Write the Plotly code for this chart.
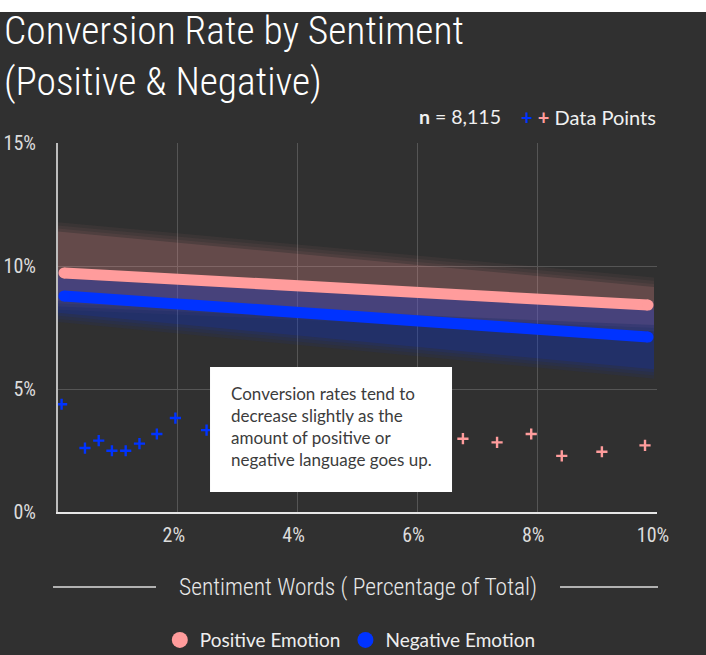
import plotly.graph_objects as go

# ---------------- data ----------------
fit_x = [0.1, 9.85]
pos_fit = [9.72, 8.41]
neg_fit = [8.78, 7.11]

band_x = [0.0, 9.95]
pos_upper = [11.4, 9.15]
pos_lower = [8.6, 7.6]
neg_upper = [9.5, 8.2]
neg_lower = [8.1, 5.8]

neg_pts_x = [0.06, 0.45, 0.68, 0.90, 1.13, 1.36, 1.65, 1.96, 2.48]
neg_pts_y = [4.38, 2.60, 2.90, 2.49, 2.49, 2.78, 3.17, 3.82, 3.33]
pos_pts_x = [6.76, 7.33, 7.90, 8.41, 9.08, 9.80]
pos_pts_y = [2.98, 2.83, 3.17, 2.28, 2.45, 2.71]

x_ticks = [2, 4, 6, 8, 10]
x_labels = ["2%", "4%", "6%", "8%", "10%"]
y_ticks = [0, 5, 10, 15]
y_labels = ["0%", "5%", "10%", "15%"]

POS = "#ff9c9c"
NEG = "#0033ff"
BG = "#303030"
COND = "Roboto Condensed"
BODY = "Lato"

fig = go.Figure()


def add_band(xs, up, lo, rgb, alphas, offsets):
    for a, off in zip(alphas, offsets):
        fig.add_trace(go.Scatter(
            x=list(xs) + list(xs)[::-1],
            y=[u + off for u in up] + [l - off for l in lo][::-1],
            fill="toself", mode="lines", line=dict(width=0),
            fillcolor=f"rgba({rgb},{a})", hoverinfo="skip", showlegend=False))


offs = [0.38, 0.25, 0.12, 0.0]
add_band(band_x, pos_upper, pos_lower, "255,156,156", [0.05, 0.05, 0.06, 0.12], offs)
add_band(band_x, neg_upper, neg_lower, "0,51,255", [0.06, 0.06, 0.07, 0.12], offs)

fig.add_trace(go.Scatter(x=fit_x, y=neg_fit, mode="lines+markers",
                         line=dict(color=NEG, width=11), marker=dict(color=NEG, size=11),
                         showlegend=False, hoverinfo="skip"))
fig.add_trace(go.Scatter(x=fit_x, y=pos_fit, mode="lines+markers",
                         line=dict(color=POS, width=11), marker=dict(color=POS, size=11),
                         showlegend=False, hoverinfo="skip"))

fig.add_trace(go.Scatter(x=neg_pts_x, y=neg_pts_y, mode="markers", cliponaxis=False,
                         marker=dict(symbol="cross-thin", size=8, line=dict(color=NEG, width=2.4)),
                         showlegend=False))
fig.add_trace(go.Scatter(x=pos_pts_x, y=pos_pts_y, mode="markers", cliponaxis=False,
                         marker=dict(symbol="cross-thin", size=8, line=dict(color=POS, width=2.4)),
                         showlegend=False))

# legend-only entries
fig.add_trace(go.Scatter(x=[None], y=[None], mode="markers", name="Positive Emotion",
                         marker=dict(symbol="circle", size=16, color=POS)))
fig.add_trace(go.Scatter(x=[None], y=[None], mode="markers", name="Negative Emotion",
                         marker=dict(symbol="circle", size=16, color=NEG)))

shapes = [
    dict(type="rect", xref="paper", yref="paper", x0=-0.2, x1=1.2, y0=1.355, y1=1.6,
         fillcolor="white", line=dict(width=0), layer="below"),
    dict(type="rect", xref="paper", yref="paper", x0=0.2538, x1=0.6578, y0=0.0542, y1=0.393,
         fillcolor="white", line=dict(width=0), layer="above"),
    dict(type="line", xref="paper", yref="paper", x0=-0.0083, x1=0.1636, y0=-0.2033, y1=-0.2033,
         line=dict(color="#dddddd", width=1.5)),
    dict(type="line", xref="paper", yref="paper", x0=0.8381, x1=1.0017, y0=-0.2033, y1=-0.2033,
         line=dict(color="#dddddd", width=1.5)),
]

annotations = [
    dict(text="Conversion Rate by Sentiment<br>(Positive & Negative)", xref="paper", yref="paper",
         x=-0.0935, y=1.2358, xanchor="left", yanchor="middle", align="left", showarrow=False,
         font=dict(family=COND, size=39.5, color="white", weight=300)),
    dict(text="<b>n</b> = 8,115", xref="paper", yref="paper", x=0.5993, y=1.0705,
         xanchor="left", yanchor="middle", showarrow=False,
         font=dict(family=BODY, size=19.5, color="#f0f0f0")),
    dict(text=f"<span style='color:{NEG}'><b>+</b></span> <span style='color:{POS}'><b>+</b></span> Data Points",
         xref="paper", yref="paper", x=1.0017, y=1.0705, xanchor="right", yanchor="middle",
         showarrow=False, font=dict(family=BODY, size=20, color="#f0f0f0")),
    dict(text="Sentiment Words ( Percentage of Total)", xref="paper", yref="paper", x=0.5,
         y=-0.2033, xanchor="center", yanchor="middle", showarrow=False,
         font=dict(family=COND, size=23.5, color="#e8e8e8", weight=300)),
    dict(text="Conversion rates tend to<br>decrease slightly as the<br>amount of positive or<br>negative language goes up.",
         xref="paper", yref="paper", x=0.2853, y=0.2330, xanchor="left", yanchor="middle",
         align="left", showarrow=False, font=dict(family=BODY, size=17, color="#3c3c3c")),
]

fig.update_layout(
    width=706, height=655,
    paper_bgcolor=BG, plot_bgcolor=BG,
    margin=dict(l=58, r=49, t=143, b=143, autoexpand=False),
    shapes=shapes, annotations=annotations,
    legend=dict(orientation="h", x=0.488, xanchor="center", y=-0.347, yanchor="middle",
                font=dict(family=BODY, size=19, color="#eeeeee"), bgcolor="rgba(0,0,0,0)"),
    xaxis=dict(range=[0, 10], tickvals=x_ticks, ticktext=x_labels, showgrid=True,
               gridcolor="#555555", gridwidth=1, showline=True, linecolor="#e6e6e6", linewidth=2,
               zeroline=False, ticks="", ticklabelstandoff=4, ticklabelshift=-4,
               tickfont=dict(family=COND, size=20, color="#dcdcdc")),
    yaxis=dict(range=[0, 15], tickvals=y_ticks, ticktext=y_labels, showgrid=True,
               gridcolor="#555555", gridwidth=1, showline=True, linecolor="#bdbdbd", linewidth=2,
               zeroline=False, ticks="", ticklabelstandoff=16,
               tickfont=dict(family=COND, size=20, color="#dcdcdc")),
    hovermode=False,
)

fig.write_html("out.html")
